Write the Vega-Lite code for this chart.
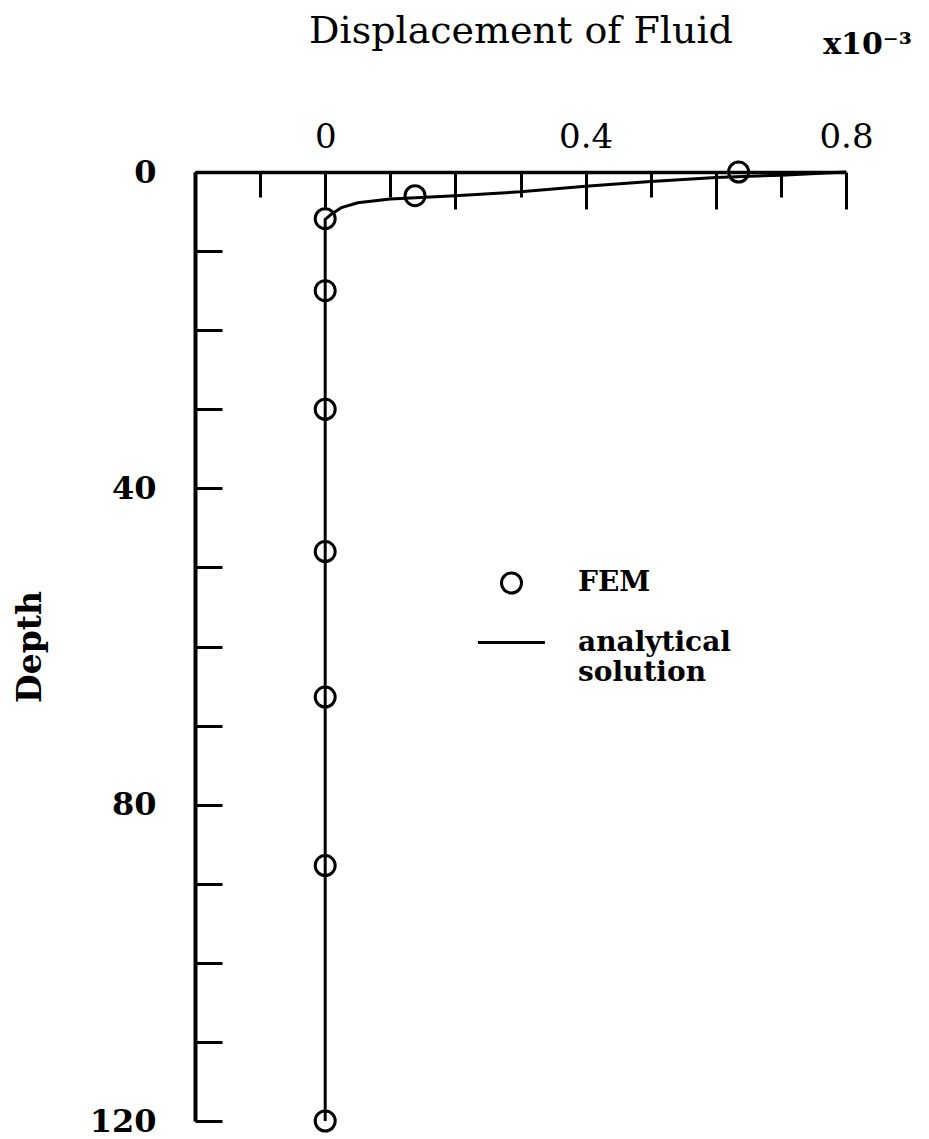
{
  "$schema": "https://vega.github.io/schema/vega-lite/v6.json",
  "width": 651,
  "height": 949,
  "autosize": {"type": "none"},
  "padding": {"left": 195, "top": 172, "right": 83, "bottom": 18},
  "background": "white",
  "config": {
    "view": {"stroke": null},
    "font": "DejaVu Serif",
    "axis": {"domainColor": "black", "tickColor": "black", "labelColor": "black", "titleColor": "black", "grid": false}
  },
  "datasets": {
    "analytical": [
      {"depth": 0, "value": 0.8},
      {"depth": 0.4, "value": 0.7},
      {"depth": 0.7, "value": 0.6},
      {"depth": 1.2, "value": 0.5},
      {"depth": 1.8, "value": 0.4},
      {"depth": 2.5, "value": 0.3},
      {"depth": 3.0, "value": 0.2},
      {"depth": 3.4, "value": 0.1},
      {"depth": 3.9, "value": 0.05},
      {"depth": 4.5, "value": 0.025},
      {"depth": 5.3, "value": 0.01},
      {"depth": 6.0, "value": 0.0},
      {"depth": 120, "value": 0.0}
    ],
    "fem": [
      {"series": "FEM", "depth": 0, "value": 0.635},
      {"series": "FEM", "depth": 3.0, "value": 0.138},
      {"series": "FEM", "depth": 5.9, "value": 0.0},
      {"series": "FEM", "depth": 15, "value": 0.0},
      {"series": "FEM", "depth": 30, "value": 0.0},
      {"series": "FEM", "depth": 48, "value": 0.0},
      {"series": "FEM", "depth": 66.4, "value": 0.0},
      {"series": "FEM", "depth": 87.7, "value": 0.0},
      {"series": "FEM", "depth": 120, "value": 0.0}
    ],
    "unit": [
      {"note": "x10⁻³", "depth": -16, "value": 0.833}
    ]
  },
  "encoding": {
    "x": {
      "field": "value",
      "type": "quantitative",
      "scale": {"domain": [-0.2, 0.8], "nice": false, "zero": false},
      "axis": {
        "orient": "top",
        "title": "Displacement of Fluid",
        "titleFont": "DejaVu Serif",
        "titleFontSize": 38,
        "titleFontWeight": "normal",
        "titlePadding": 58,
        "values": [-0.2, -0.1, 0, 0.1, 0.2, 0.3, 0.4, 0.5, 0.6, 0.7, 0.8],
        "labelExpr": "abs(datum.value) < 1e-6 ? '0' : abs(datum.value - 0.4) < 1e-6 ? '0.4' : abs(datum.value - 0.8) < 1e-6 ? '0.8' : ''",
        "labelFont": "DejaVu Serif",
        "labelFontSize": 34,
        "labelFontWeight": "normal",
        "labelPadding": 55,
        "labelFlush": false,
        "labelOverlap": false,
        "domainWidth": 3.5,
        "tickWidth": 3,
        "tickSize": {"condition": {"test": "round(datum.value * 10) % 2 == 0", "value": -37}, "value": -25}
      }
    },
    "y": {
      "field": "depth",
      "type": "quantitative",
      "scale": {"domain": [0, 120], "nice": false, "zero": false, "reverse": true},
      "axis": {
        "orient": "left",
        "title": "Depth",
        "titleFont": "DejaVu Serif",
        "titleFontSize": 33,
        "titleFontWeight": "bold",
        "titlePadding": 42,
        "values": [0, 10, 20, 30, 40, 50, 60, 70, 80, 90, 100, 110, 120],
        "labelExpr": "datum.value % 40 == 0 ? datum.label : ''",
        "labelFont": "DejaVu Serif",
        "labelFontSize": 32,
        "labelFontWeight": "bold",
        "labelPadding": 66,
        "labelFlush": false,
        "labelOverlap": false,
        "domainWidth": 4,
        "tickWidth": 3,
        "tickSize": -27
      }
    }
  },
  "layer": [
    {
      "data": {"name": "analytical"},
      "mark": {"type": "line", "color": "black", "strokeWidth": 3, "clip": false},
      "encoding": {"order": {"field": "depth", "type": "quantitative"}}
    },
    {
      "data": {"name": "fem"},
      "mark": {"type": "point", "filled": false, "color": "black", "strokeWidth": 3, "opacity": 1},
      "encoding": {
        "shape": {
          "field": "series",
          "type": "nominal",
          "scale": {"domain": ["FEM", "analytical solution"], "range": ["circle", "stroke"]},
          "legend": {
            "title": null,
            "orient": "none",
            "legendX": 281,
            "legendY": 397,
            "labelFont": "DejaVu Serif",
            "labelFontWeight": "bold",
            "labelFontSize": 28,
            "labelColor": "black",
            "labelOffset": 31,
            "rowPadding": 8,
            "symbolStrokeColor": "black",
            "symbolStrokeWidth": 3,
            "symbolFillColor": "white",
            "symbolOpacity": 1,
            "labelExpr": "datum.label == 'analytical solution' ? ['analytical', 'solution'] : datum.label"
          }
        },
        "size": {
          "field": "series",
          "type": "nominal",
          "scale": {"domain": ["FEM", "analytical solution"], "range": [400, 4500]},
          "legend": {
            "title": null,
            "orient": "none",
            "legendX": 281,
            "legendY": 397,
            "labelExpr": "datum.label == 'analytical solution' ? ['analytical', 'solution'] : datum.label"
          }
        }
      }
    },
    {
      "data": {"name": "unit"},
      "mark": {"type": "text", "font": "DejaVu Serif", "fontWeight": "bold", "fontSize": 30, "color": "black", "align": "center", "baseline": "middle"},
      "encoding": {"text": {"field": "note"}}
    }
  ]
}
